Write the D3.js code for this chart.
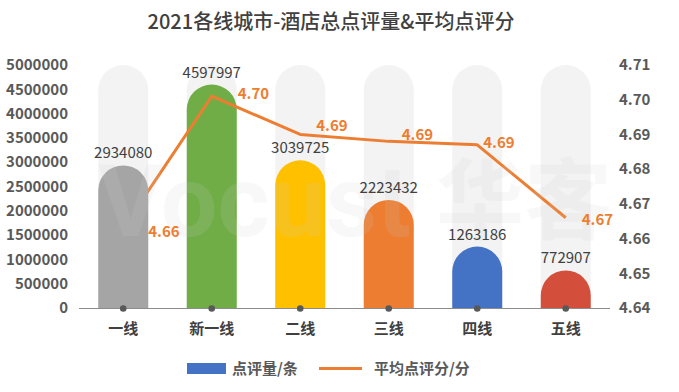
<!DOCTYPE html>
<html><head><meta charset="utf-8">
<script src="https://cdn.jsdelivr.net/npm/d3@7"></script>
<style>body{margin:0;background:#fff}svg{display:block;font-family:"Noto Sans CJK SC","Noto Sans",sans-serif}</style>
</head><body><svg id="c" width="679" height="392"></svg>
<script>
const categories = ["一线","新一线","二线","三线","四线","五线"];
const reviewCounts = [2934080,4597997,3039725,2223432,1263186,772907];
const avgScores = [4.663,4.701,4.690,4.688,4.687,4.666];
const scoreLabels = ["4.66","4.70","4.69","4.69","4.69","4.67"];
const barColors = ["#a5a5a5","#70ad47","#ffc000","#ed7d31","#4472c4","#d34f3c"];
const leftTicks = [0,500000,1000000,1500000,2000000,2500000,3000000,3500000,4000000,4500000,5000000];
const rightTicks = [4.64,4.65,4.66,4.67,4.68,4.69,4.70,4.71];
const title = "2021各线城市-酒店总点评量&平均点评分";
const legendNames = ["点评量/条","平均点评分/分"];
const watermark = ["Vocust","华客"];

const svg = d3.select("#c");
const L=79, R=610, T=65, B=308;
const x = d3.scaleBand().domain(categories).range([L,R]).paddingInner(0.435).paddingOuter(0.2175);
const yL = d3.scaleLinear().domain([0,5000000]).range([B,T]);
const yR = d3.scaleLinear().domain([4.64,4.71]).range([B,T]);
const txt="#595959";

svg.append("text").attr("x",331).attr("y",22).attr("dy","0.35em").attr("text-anchor","middle")
  .attr("font-size",20).attr("font-weight",500).attr("fill","#404040").text(title);

const bw = x.bandwidth();
function capsule(x0,yTop,w,yBot){
  const r=w/2;
  const top=Math.min(yTop, yBot);
  if (yBot-top < r) { return `M${x0},${yBot}A${r},${r} 0 0 1 ${x0+w},${yBot}Z`; }
  return `M${x0},${yBot}L${x0},${top+r}A${r},${r} 0 0 1 ${x0+w},${top+r}L${x0+w},${yBot}Z`;
}
// background capsules
svg.append("g").selectAll("path").data(categories).join("path")
  .attr("d",d=>capsule(x(d),yL(5000000),bw,B)).attr("fill","#f3f3f3");

// axes text
svg.append("g").selectAll("text").data(leftTicks).join("text")
  .attr("x",68).attr("y",d=>yL(d)).attr("dy","0.35em").attr("text-anchor","end")
  .attr("font-size",15).attr("font-weight","bold").attr("fill",txt).text(d=>d);
svg.append("g").selectAll("text").data(rightTicks).join("text")
  .attr("x",619).attr("y",d=>yR(d)).attr("dy","0.35em")
  .attr("font-size",15).attr("font-weight","bold").attr("fill",txt).text(d=>d.toFixed(2));

const data = categories.map((c,i)=>({c,v:reviewCounts[i],s:avgScores[i],l:scoreLabels[i],col:barColors[i],i}));
const cx = d=>x(d.c)+bw/2;

const barsG = svg.append("g");
const lineG = svg.append("g");
const frontG = svg.append("g");
const wmG = svg.append("g");
barsG.selectAll("path").data(data.slice(1)).join("path")
  .attr("d",d=>capsule(x(d.c),yL(d.v),bw,B)).attr("fill",d=>d.col);

const line = d3.line().x(cx).y(d=>yR(d.s));
lineG.append("path").datum(data).attr("d",line).attr("fill","none")
  .attr("stroke","#ed7d31").attr("stroke-width",3).attr("stroke-linejoin","round");

frontG.selectAll("path").data(data.slice(0,1)).join("path")
  .attr("d",d=>capsule(x(d.c),yL(d.v),bw,B)).attr("fill",d=>d.col);

// watermark
wmG.attr("fill","#d0d0d0").attr("opacity",0.14).attr("font-weight","bold");
wmG.append("text").attr("x",98).attr("y",236).attr("font-size",100)
  .attr("font-family","Roboto, sans-serif").text(watermark[0]);
wmG.append("text").attr("x",436).attr("y",232).attr("font-size",88).text(watermark[1]);

// bar labels
svg.append("g").selectAll("text").data(data).join("text")
  .attr("x",cx).attr("y",d=>yL(d.v)-7).attr("text-anchor","middle")
  .attr("font-size",15).attr("fill","#404040").text(d=>d.v);

// line labels
const lOff=[{dx:25,dy:4},{dx:26,dy:-2},{dx:16,dy:-9},{dx:13,dy:-7},{dx:6,dy:-2},{dx:16,dy:2}];
svg.append("g").selectAll("text").data(data).join("text")
  .attr("x",d=>cx(d)+lOff[d.i].dx).attr("y",d=>yR(d.s)+lOff[d.i].dy).attr("dy","0.35em")
  .attr("font-size",15).attr("font-weight","bold").attr("fill","#ed7d31").text(d=>d.l);

// x axis
svg.append("line").attr("x1",L).attr("x2",R).attr("y1",B+0.5).attr("y2",B+0.5).attr("stroke","#8c8c8c").attr("stroke-width",1);
svg.append("g").selectAll("circle").data(data).join("circle")
  .attr("cx",cx).attr("cy",B+0.5).attr("r",3.3).attr("fill","#595959");
svg.append("g").selectAll("text").data(data).join("text")
  .attr("x",cx).attr("y",329).attr("dy","0.35em").attr("text-anchor","middle")
  .attr("font-size",15).attr("font-weight","bold").attr("fill","#404040").text(d=>d.c);

// legend
const lg = svg.append("g");
lg.append("rect").attr("x",187).attr("y",363).attr("width",39).attr("height",11).attr("fill","#4472c4");
lg.append("text").attr("x",232).attr("y",369).attr("dy","0.35em").attr("font-size",15).attr("font-weight","bold").attr("fill",txt).text(legendNames[0]);
lg.append("line").attr("x1",319).attr("x2",362).attr("y1",368.5).attr("y2",368.5).attr("stroke","#ed7d31").attr("stroke-width",3);
lg.append("text").attr("x",374).attr("y",369).attr("dy","0.35em").attr("font-size",15).attr("font-weight","bold").attr("fill",txt).text(legendNames[1]);
</script></body></html>
